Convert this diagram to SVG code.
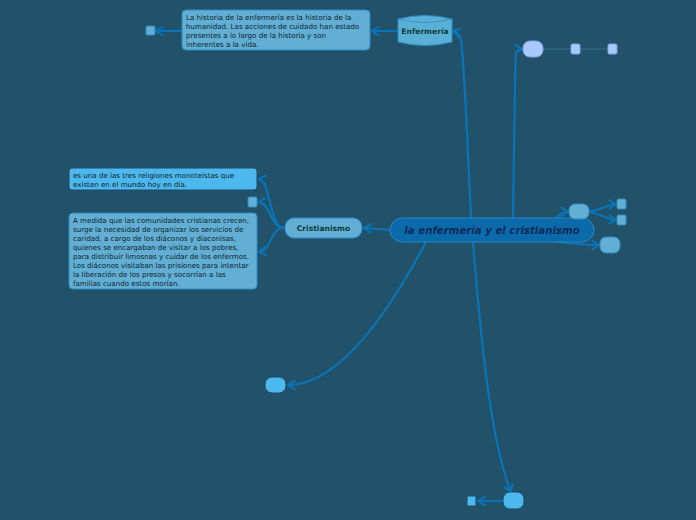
<svg xmlns="http://www.w3.org/2000/svg" width="696" height="520" viewBox="0 0 696 520">
<defs>
<marker id="ah2" viewBox="0 0 12 12" refX="10" refY="6" markerWidth="11" markerHeight="11" orient="auto" markerUnits="userSpaceOnUse">
<path d="M2,1 L10,6 L2,11" fill="none" stroke="#0a74b8" stroke-width="2.2"/>
</marker>
</defs>
<style>
.c{fill:none;stroke:#0a74b8;stroke-width:2.2;marker-end:url(#ah2)}
.thin{fill:none;stroke:#2f6f8d;stroke-width:1}
.box{fill:#62aed4;stroke:#2d8cc4;stroke-width:1}
.boxb{fill:#4db8ee;stroke:#1a4a6a;stroke-width:1}
.lav{fill:#a8c8ff;stroke:#7fa6e8;stroke-width:1}
.t{font-family:"DejaVu Sans",Verdana,sans-serif;font-size:7.1px;fill:#0f1f2a}
.lbl{font-family:"DejaVu Sans",Verdana,sans-serif;font-size:7.6px;font-weight:bold;fill:#0d3d3a;text-anchor:middle}
</style>
<rect width="696" height="520" fill="#22526a"/>
<g id="connectors">
<path class="c" d="M471,218 C468,150 464,60 461,40 C460,34 457,32 453,31"/>
<path class="c" d="M397,31 L372,31"/>
<path class="c" d="M181,31 L156,31"/>
<path class="c" d="M513,218 C514,150 515,70 516,55 C516,50 518,49 522,49"/>
<path class="thin" d="M543,49 L571,49"/>
<path class="thin" d="M580,49 L608,49"/>
<path class="c" d="M556,218 C560,214 563,212 568,212"/>
<path class="c" d="M589,211 C600,211 605,205 616,204"/>
<path class="c" d="M589,212 C600,213 605,219 616,220"/>
<path class="c" d="M545,240 C570,244 585,245 599,245"/>
<path class="c" d="M390,230 L364,228"/>
<path class="c" d="M284,228 C270,228 270,180 259,179"/>
<path class="c" d="M284,228 C270,228 270,202 259,202"/>
<path class="c" d="M284,228 C270,228 272,250 259,252"/>
<path class="c" d="M426,242 C390,310 340,385 288,385"/>
<path class="c" d="M473,242 C480,330 490,440 511,492"/>
<path class="c" d="M503,501 L478,501"/>
</g>
<g id="central">
<rect x="390" y="218" width="204" height="24" rx="12" fill="#0a6aaa" stroke="#2a86c6" stroke-width="1"/>
<text x="492" y="233.5" font-family="DejaVu Sans,Verdana,sans-serif" font-size="10.2" font-weight="bold" font-style="italic" fill="#0d2a5a" text-anchor="middle">la enfermería y el cristianismo</text>
</g>
<g id="enfermeria">
<path d="M398,19 Q425,12 452,19 L452,42 Q425,49 398,42 Z" fill="#5aafd6" stroke="#2d8cc4" stroke-width="1"/>
<path d="M398,19 Q425,26 452,19" fill="none" stroke="#2d8cc4" stroke-width="0.8"/>
<text class="lbl" x="425" y="34">Enfermería</text>
</g>
<g id="historia">
<rect class="box" x="182" y="10" width="188" height="40" rx="4"/>
<text class="t" x="186" y="20">La historia de la enfermería es la historia de la</text>
<text class="t" x="186" y="29">humanidad. Las acciones de cuidado han estado</text>
<text class="t" x="186" y="38">presentes a lo largo de la historia y son</text>
<text class="t" x="186" y="47">inherentes a la vida.</text>
</g>
<g id="sq-historia"><rect class="box" x="146" y="26" width="9" height="9" rx="1.5"/></g>
<g id="topright"><rect class="lav" x="523" y="41" width="20" height="16" rx="7"/></g>
<g id="topright-sq1"><rect class="lav" x="571" y="44" width="9" height="10" rx="1.5"/></g>
<g id="topright-sq2"><rect class="lav" x="608" y="44" width="9" height="10" rx="1.5"/></g>
<g id="right1"><rect class="box" x="569" y="204" width="20" height="15" rx="6"/></g>
<g id="right1-sq1"><rect class="box" x="617" y="199" width="9" height="10" rx="1.5"/></g>
<g id="right1-sq2"><rect class="box" x="617" y="215" width="9" height="10" rx="1.5"/></g>
<g id="right2"><rect class="box" x="600" y="237" width="20" height="16" rx="6"/></g>
<g id="cristianismo">
<rect class="box" x="285" y="218" width="77" height="20" rx="9"/>
<text class="lbl" x="323.5" y="231">Cristianismo</text>
</g>
<g id="religiones">
<rect class="boxb" x="69" y="168" width="188" height="22" rx="3"/>
<text class="t" x="73" y="177.5">es una de las tres religiones monoteístas que</text>
<text class="t" x="73" y="186.5">existen en el mundo hoy en día.</text>
</g>
<g id="sq-crist"><rect class="box" x="248" y="197" width="9" height="10" rx="1.5"/></g>
<g id="comunidades">
<rect class="box" x="69" y="213" width="188" height="76" rx="4"/>
<text class="t" x="73" y="222.5">A medida que las comunidades cristianas crecen,</text>
<text class="t" x="73" y="231.5">surge la necesidad de organizar los servicios de</text>
<text class="t" x="73" y="240.5">caridad, a cargo de los diáconos y diaconisas,</text>
<text class="t" x="73" y="249.5">quienes se encargaban de visitar a los pobres,</text>
<text class="t" x="73" y="258.5">para distribuir limosnas y cuidar de los enfermos.</text>
<text class="t" x="73" y="267.5">Los diáconos visitaban las prisiones para intentar</text>
<text class="t" x="73" y="276.5">la liberación de los presos y socorrían a las</text>
<text class="t" x="73" y="285.5">familias cuando estos morían.</text>
</g>
<g id="bottomleft"><rect class="boxb" x="265" y="377" width="21" height="16" rx="7" stroke="#2d8cc4"/></g>
<g id="bottom"><rect class="boxb" x="503" y="492" width="21" height="17" rx="7" stroke="#2d8cc4"/></g>
<g id="bottom-sq"><rect class="boxb" x="467" y="496" width="9" height="10" rx="1.5" stroke="#2d8cc4"/></g>
</svg>
